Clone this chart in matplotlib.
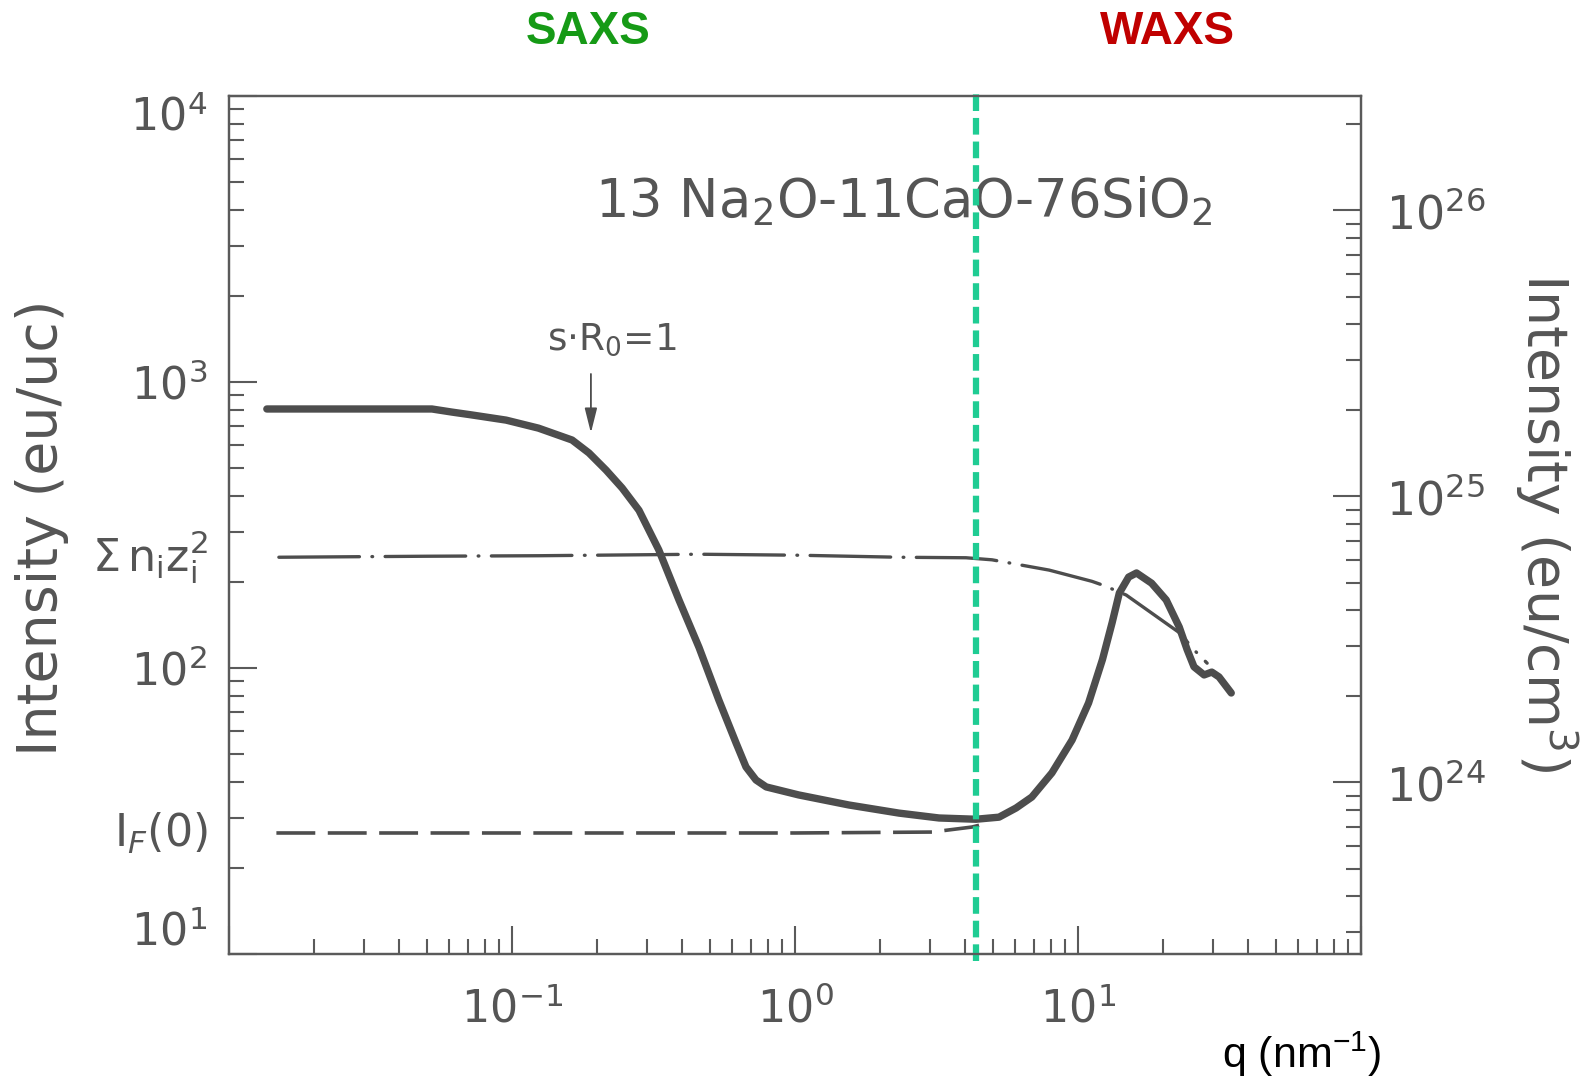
import matplotlib
matplotlib.use("Agg")
import matplotlib.pyplot as plt
from matplotlib.ticker import FixedLocator, LogLocator, NullFormatter

# thick measured curve: q (nm^-1) vs intensity (eu/uc)
q_meas = [0.0136, 0.0521, 0.0614, 0.0723, 0.0953, 0.124, 0.163, 0.187, 0.215,
          0.245, 0.281, 0.330, 0.389, 0.458, 0.538, 0.619, 0.671, 0.728,
          0.791, 1.03, 1.55, 2.33, 3.23, 4.36, 5.26, 6.04, 6.87, 8.09, 9.53,
          10.9, 12.2, 13.2, 14.0, 15.1, 16.1, 18.2, 20.5, 22.8, 24.3, 25.7,
          27.9, 29.7, 31.5, 34.8]
i_meas = [805, 805, 785, 767, 736, 690, 627, 565, 492,
          426, 356, 259, 173, 118, 77.3, 54.7, 45.1, 40.6,
          38.4, 36.0, 33.2, 31.1, 29.9, 29.6, 30.1, 32.4, 35.4, 43.0, 56.0,
          75.5, 107, 144, 183, 208, 215, 198, 173, 139, 116, 101,
          94.6, 96.8, 93.1, 81.8]

# independent scattering, sum n_i z_i^2 (dash-dot)
q_indep = [0.015, 0.05, 0.124, 0.3, 0.458, 1.03, 2.33, 4.02, 4.97, 7.91,
           11.2, 12.4, 14.8, 22.8, 26.1, 28.6]
i_indep = [244, 246, 247, 249, 250, 248, 244, 243, 239, 220,
           201, 194, 180, 133, 114, 104]

# I_F(0) level (dashed)
q_if0 = [0.0147, 1.0, 3.05, 4.22, 4.47]
i_if0 = [26.5, 26.5, 26.7, 27.8, 28.2]

q_split = 4.35      # SAXS / WAXS boundary
q_sr0 = 0.19        # s*R0 = 1
sum_nz2 = 244
if0_level = 26.5
uc_to_cm3 = 10 ** 22.4

x_ticks = [0.01, 0.1, 1, 10, 100]
x_ticklabels = ["", "$10^{-1}$", "$10^{0}$", "$10^{1}$", ""]
y_ticks = [10, 100, 1000, 10000]
y_ticklabels = ["$10^{1}$", "$10^{2}$", "$10^{3}$", "$10^{4}$"]
y2_ticks = [1e24, 1e25, 1e26]
y2_ticklabels = ["$10^{24}$", "$10^{25}$", "$10^{26}$"]

plt.rcParams["lines.scale_dashes"] = False
ink = "#4d4d4d"
txt = "#555555"

fig = plt.figure(figsize=(15.84, 10.78), dpi=100)
ax = fig.add_axes([0.1446, 0.1150, 0.7146, 0.7959])
ax.set_xscale("log")
ax.set_yscale("log")
ax.set_xlim(0.01, 100)
ax.set_ylim(10, 1e4)

ax.plot(q_meas, i_meas, color=ink, lw=5.3, solid_joinstyle="round",
        solid_capstyle="round")
ax.plot(q_indep, i_indep, color=ink, lw=2.4, dashes=(58, 9, 0.5, 9),
        dash_capstyle="round")
ax.plot(q_if0, i_if0, color=ink, lw=2.6, dashes=(28, 9))

ax.axvline(q_split, ymin=-0.008, ymax=1.008, color="#1fcc93", lw=4.5,
           dashes=(12, 5), clip_on=False, zorder=5)

ax.annotate("", xy=(q_sr0, 664), xytext=(q_sr0, 1067),
            arrowprops=dict(arrowstyle="-|>,head_length=0.6,head_width=0.15",
                            color=ink, lw=1.3, mutation_scale=25,
                            shrinkA=0, shrinkB=0))
ax.text(0.133, 1403, r"s$\cdot$R$_0$=1", color=txt, fontsize=27,
        ha="left", va="center")
ax.text(2.43, 3776, r"13 Na$_2$O-11CaO-76SiO$_2$", color=txt, fontsize=38,
        ha="center", va="baseline")

for val, lab in [(sum_nz2, r"$\Sigma\,\mathrm{n_i z_i^2}$"),
                 (if0_level, r"I$_F$(0)")]:
    ax.annotate(lab, xy=(0, val), xycoords=("axes fraction", "data"),
                xytext=(-15, 0), textcoords="offset points",
                ha="right", va="center", color=txt, fontsize=32)

for sp in ax.spines.values():
    sp.set_color("#5a5a5a")
    sp.set_linewidth(1.6)

ax.xaxis.set_major_locator(FixedLocator(x_ticks))
ax.set_xticklabels(x_ticklabels)
ax.xaxis.set_minor_locator(LogLocator(base=10, subs=range(2, 10)))
ax.xaxis.set_minor_formatter(NullFormatter())
ax.yaxis.set_major_locator(FixedLocator(y_ticks))
ax.set_yticklabels(y_ticklabels)
ax.yaxis.set_minor_locator(LogLocator(base=10, subs=range(2, 10)))
ax.yaxis.set_minor_formatter(NullFormatter())
ax.tick_params(which="both", direction="in", color="#5a5a5a", width=1.5,
               top=False, right=False, labelcolor=txt, labelsize=32)
ax.tick_params(which="major", length=20)
ax.tick_params(which="minor", length=11)
ax.tick_params(axis="x", pad=24)
ax.tick_params(axis="y", pad=16)
ylabs = ax.get_yticklabels()
ylabs[0].set_va("bottom")
ylabs[-1].set_va("top")

ax2 = ax.twinx()
ax2.set_yscale("log")
ax2.set_ylim(10 * uc_to_cm3, 1e4 * uc_to_cm3)
ax2.yaxis.set_major_locator(FixedLocator(y2_ticks))
ax2.set_yticklabels(y2_ticklabels)
ax2.yaxis.set_minor_locator(LogLocator(base=10, subs=range(2, 10)))
ax2.yaxis.set_minor_formatter(NullFormatter())
ax2.tick_params(which="both", direction="in", color="#5a5a5a", width=1.5,
                labelcolor=txt, labelsize=33, pad=18)
ax2.tick_params(which="major", length=20)
ax2.tick_params(which="minor", length=11)
for sp in ax2.spines.values():
    sp.set_color("#5a5a5a")
    sp.set_linewidth(1.6)

fig.text(42 / 1584, 1 - 528 / 1078, "Intensity (eu/uc)", rotation=90,
         ha="center", va="center", color=txt, fontsize=40)
fig.text(1546 / 1584, 1 - 523 / 1078, "Intensity (eu/cm$^3$)", rotation=270,
         ha="center", va="center", color=txt, fontsize=40)

fig.text(588 / 1584, 1 - 32 / 1078, "SAXS", color="#169a16", fontsize=33,
         fontweight="bold", family="Liberation Sans", ha="center", va="center")
fig.text(1167 / 1584, 1 - 32 / 1078, "WAXS", color="#c00000", fontsize=33,
         fontweight="bold", family="Liberation Sans", ha="center", va="center")
fig.text(1302 / 1584, 1 - 1054 / 1078, "q (nm$^{\\mathregular{-1}}$)",
         color="black", fontsize=31, family="Liberation Sans",
         ha="center", va="center")

fig.savefig("out.png", dpi=100)
